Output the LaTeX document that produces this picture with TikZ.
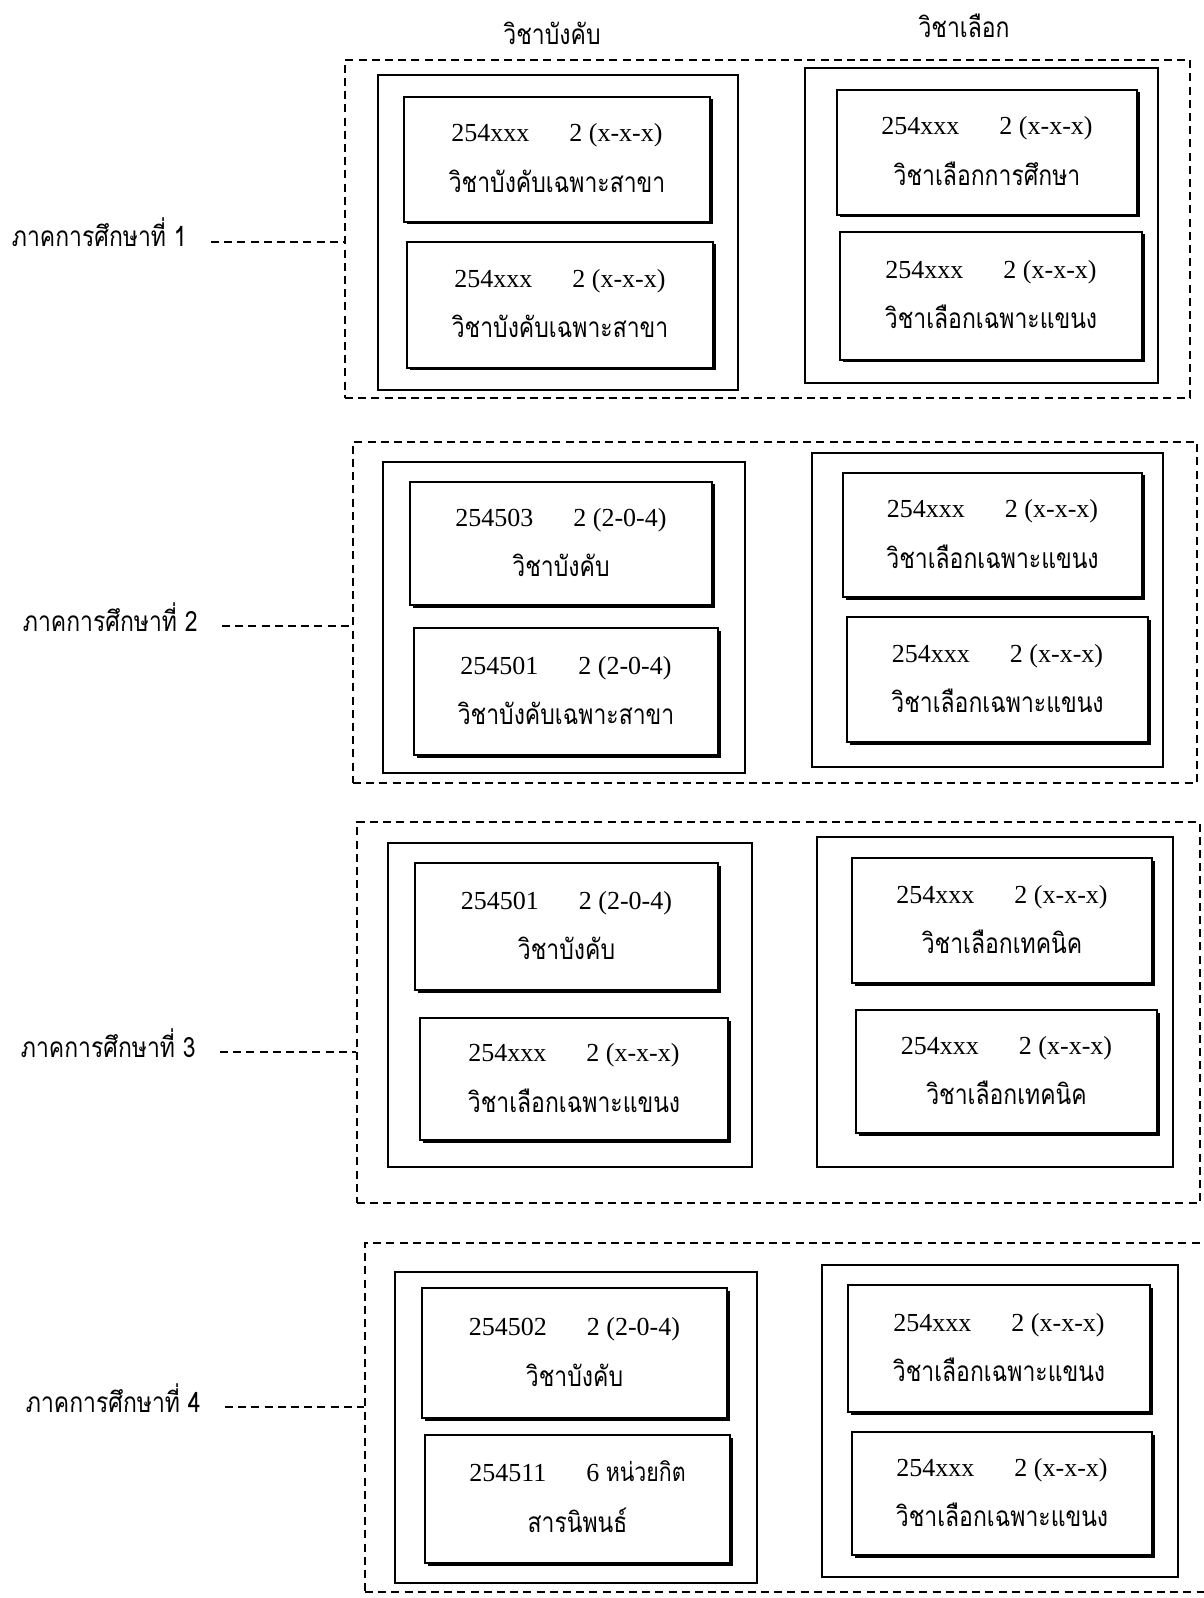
\documentclass[tikz,border=0pt]{standalone}
\usepackage{fontspec}
\setmainfont{Liberation Serif}
\newfontfamily\thaifont[Script=Thai,FakeStretch=0.82]{Loma}
\usetikzlibrary{fit,calc}
\tikzset{
  sect/.style={draw, dash pattern=on 4pt off 2.6pt, line width=1pt, inner sep=0pt},
  colbox/.style={draw, line width=0.9pt, inner sep=0pt},
  cardbox/.style={draw, fill=white, line width=0.9pt, inner sep=0pt},
  codeline/.style={anchor=base, font=\fontsize{13}{15}\selectfont, inner sep=0pt},
  thline/.style={anchor=base, font=\thaifont\fontsize{14}{16}\selectfont, inner sep=0pt},
  semlabel/.style={anchor=base east, font=\thaifont\fontsize{14}{16}\selectfont, inner sep=0pt},
  headlabel/.style={font=\thaifont\fontsize{14}{16}\selectfont, inner sep=0pt},
  conn/.style={dash pattern=on 4pt off 2.6pt, line width=1pt},
}
\newcommand\cd[2]{#1\hspace{20pt}#2}
\newcommand\card[7]{%
  \fill (#2+2.5,#3+2.5) rectangle (#4+2.5,#5+2.5);
  \node[cardbox, fit={(#2,#3) (#4,#5)}] (#1) {};
  \node[codeline] (#1a) at ([yshift=8.75pt]#1.center) {#6};
  \node[thline] (#1b) at ([yshift=-16.5pt]#1.center) {#7};
}
\begin{document}
\begin{tikzpicture}[x=0.5pt, y=-0.5pt]
\useasboundingbox (0,0) rectangle (1203,1598);
\fill[white] (0,0) rectangle (1203,1598);

% headers
\node[headlabel] (h1) at (552,33) {วิชาบังคับ};
\node[headlabel] (h2) at (964,26) {วิชาเลือก};

% ---------- semester 1
\node[sect, fit={(345,60) (1190,398)}] (S1) {};
\node[colbox, fit={(378,75) (738,390)}] (C1L) {};
\node[colbox, fit={(805,68) (1158,383)}] (C1R) {};
\card{c1a}{404}{97}{710}{222}{\cd{254xxx}{2 (x-x-x)}}{วิชาบังคับเฉพาะสาขา}
\card{c1b}{407}{242}{713}{368}{\cd{254xxx}{2 (x-x-x)}}{วิชาบังคับเฉพาะสาขา}
\card{c1c}{837}{90}{1137}{215}{\cd{254xxx}{2 (x-x-x)}}{วิชาเลือกการศึกษา}
\card{c1d}{840}{232}{1142}{360}{\cd{254xxx}{2 (x-x-x)}}{วิชาเลือกเฉพาะแขนง}
\node[semlabel] (L1) at (187,247) {ภาคการศึกษาที่ 1};
\draw[conn] ([xshift=12pt,yshift=2.5pt]L1.base east) coordinate (t1) -- (t1 -| S1.west);

% ---------- semester 2
\node[sect, fit={(353,442) (1197,783)}] (S2) {};
\node[colbox, fit={(383,462) (745,773)}] (C2L) {};
\node[colbox, fit={(812,453) (1163,767)}] (C2R) {};
\card{c2a}{410}{482}{712}{605}{\cd{254503}{2 (2-0-4)}}{วิชาบังคับ}
\card{c2b}{414}{628}{718}{755}{\cd{254501}{2 (2-0-4)}}{วิชาบังคับเฉพาะสาขา}
\card{c2c}{843}{473}{1142}{597}{\cd{254xxx}{2 (x-x-x)}}{วิชาเลือกเฉพาะแขนง}
\card{c2d}{847}{617}{1148}{742}{\cd{254xxx}{2 (x-x-x)}}{วิชาเลือกเฉพาะแขนง}
\node[semlabel] (L2) at (198,631) {ภาคการศึกษาที่ 2};
\draw[conn] ([xshift=12pt,yshift=2.5pt]L2.base east) coordinate (t2) -- (t2 -| S2.west);

% ---------- semester 3
\node[sect, fit={(357,822) (1200,1203)}] (S3) {};
\node[colbox, fit={(388,843) (752,1167)}] (C3L) {};
\node[colbox, fit={(817,837) (1173,1167)}] (C3R) {};
\card{c3a}{415}{863}{718}{990}{\cd{254501}{2 (2-0-4)}}{วิชาบังคับ}
\card{c3b}{420}{1018}{728}{1140}{\cd{254xxx}{2 (x-x-x)}}{วิชาเลือกเฉพาะแขนง}
\card{c3c}{852}{858}{1152}{983}{\cd{254xxx}{2 (x-x-x)}}{วิชาเลือกเทคนิค}
\card{c3d}{856}{1010}{1157}{1133}{\cd{254xxx}{2 (x-x-x)}}{วิชาเลือกเทคนิค}
\node[semlabel] (L3) at (196,1057) {ภาคการศึกษาที่ 3};
\draw[conn] ([xshift=12pt,yshift=2.5pt]L3.base east) coordinate (t3) -- (t3 -| S3.west);

% ---------- semester 4
\node[sect, fit={(365,1243) (1215,1592)}] (S4) {};
\node[colbox, fit={(395,1272) (757,1583)}] (C4L) {};
\node[colbox, fit={(822,1265) (1178,1577)}] (C4R) {};
\card{c4a}{422}{1288}{727}{1418}{\cd{254502}{2 (2-0-4)}}{วิชาบังคับ}
\card{c4b}{425}{1435}{730}{1563}{\cd{254511}{6 {\thaifont หน่วยกิต}}}{สารนิพนธ์}
\card{c4c}{848}{1285}{1150}{1412}{\cd{254xxx}{2 (x-x-x)}}{วิชาเลือกเฉพาะแขนง}
\card{c4d}{852}{1432}{1152}{1555}{\cd{254xxx}{2 (x-x-x)}}{วิชาเลือกเฉพาะแขนง}
\node[semlabel] (L4) at (201,1412) {ภาคการศึกษาที่ 4};
\draw[conn] ([xshift=12pt,yshift=2.5pt]L4.base east) coordinate (t4) -- (t4 -| S4.west);
\end{tikzpicture}
\end{document}
